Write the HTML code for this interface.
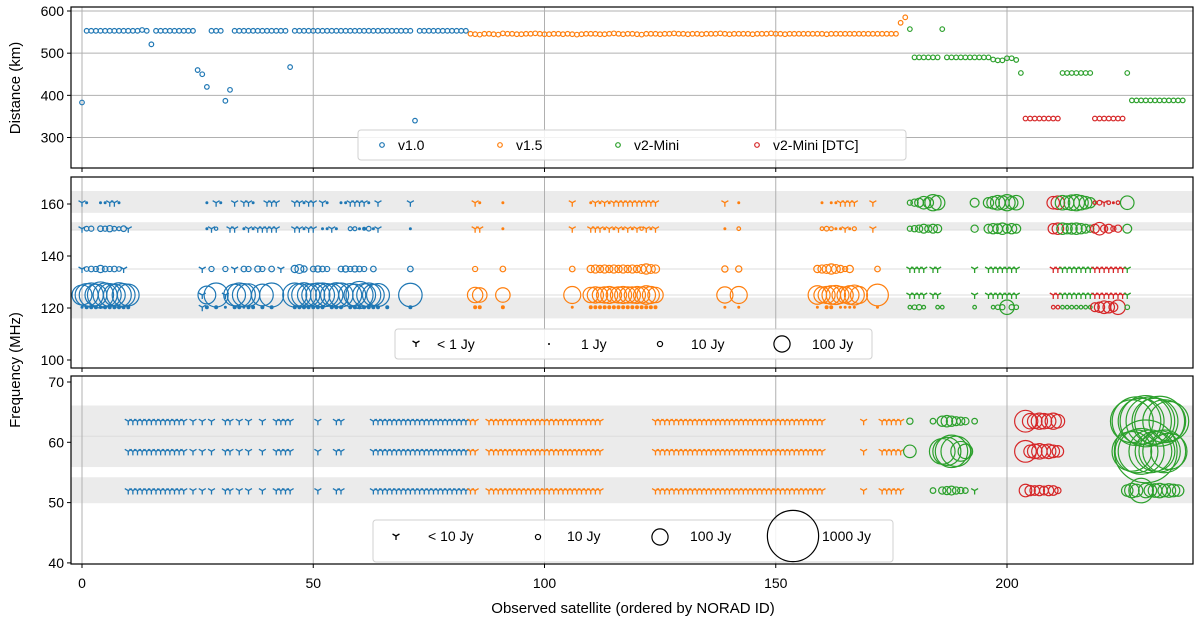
<!DOCTYPE html>
<html><head><meta charset="utf-8"><style>
html,body{margin:0;padding:0;background:#fff;}
svg{display:block;font-family:"Liberation Sans","DejaVu Sans",sans-serif;}
</style></head><body>
<svg id="chart" width="1200" height="621" viewBox="0 0 1200 621" xmlns="http://www.w3.org/2000/svg">
<rect width="1200" height="621" fill="#fff"/>
<g id="layer"></g>
</svg>
<script>
// ---------- DATA ----------
// Top panel: distance (km) for each observed satellite index 0..238
const distances = [383,
553,553,553,553,553,553,553,553,553,553,553,553,555,553,
521,
553,553,553,553,553,553,553,553,553,
460,450,420,
553,553,553,
387,413,
553,553,553,553,553,553,553,553,553,553,553,553,
467,
553,553,553,553,553,553,553,553,553,553,553,553,553,553,553,553,553,553,553,553,553,553,553,553,553,553,
340,
553,553,553,553,553,553,553,553,553,553,553,
546,545,544,546,546,545,544,547,546,546,545,545,546,546,547,546,545,545,546,546,545,546,545,544,545,546,546,546,545,545,
546,547,546,545,546,546,545,544,546,546,546,545,546,546,547,546,546,545,546,546,545,546,546,546,547,546,545,546,546,546,
546,545,546,546,546,547,546,546,545,546,546,546,546,546,546,546,546,545,546,546,546,546,546,546,546,546,546,546,546,546,
546,546,546,
572,585,
557,490,490,490,490,490,490,557,490,490,490,490,490,490,490,490,490,490,485,483,483,488,488,484,
453,
345,345,345,345,345,345,345,345,
453,453,453,453,453,453,453,
345,345,345,345,345,345,345,
453,
388,388,388,388,388,388,388,388,388,388,388,388];
const topTicks = [300,400,500,600];
const versionNames = ["v1.0","v1.5","v2-Mini","v2-Mini [DTC]"];
const colors = ["#1f77b4","#ff7f0e","#2ca02c","#d62728"];

// Middle panel (100-170 MHz)
const midFreqs = [160.5,150.5,135,125,120.3];
const midIdx = [0,1,2,3,4,5,6,7,8,9,10,11,
26,27,28,29,30,31,32,33,34,35,36,37,38,39,40,41,42,43,
46,47,48,49,50,51,52,53,54,55,56,57,58,59,60,61,62,63,64,65,66,
71,
84,85,86,87,88,89,90,91,92,93,
106,107,108,109,110,111,112,113,114,115,116,117,118,119,120,121,122,123,124,125,
138,139,140,141,142,143,144,
158,159,160,161,162,163,164,165,166,167,168,169,170,171,172,173,
179,180,181,182,183,184,185,186,187,
193,194,195,196,197,198,199,200,201,202,203,204,
210,211,212,213,214,215,216,217,218,219,220,221,222,223,224,225,226];
const mid160 = [0.5,1,0,0,1,1,0.5,0.5,1,0,0,0,
0,1,0,0.5,1,0,0,0.5,0,0.5,0.5,1,0,0,0.5,0.5,0.5,0,
0.5,0.5,1,0.5,0.5,0,0.5,1,0,0,1,1,0.5,0.5,0.5,0.5,1,0,0.5,0,0,
0.5,
0,0.5,1,0,0,0,0,1,0,0,
0.5,0,0,0,1,0.5,1,0.5,1,0.5,0.5,0.5,0.5,0.5,0.5,0.5,0.5,0.5,0.5,0,
0,0.5,0,0,1,0,0,
0,0,1,0,1,1,0.5,0.5,0.5,0.5,0,0,0,0.5,0,0,
10,20,30,60,40,100,80,0,0,
30,0,0,40,60,80,70,100,60,80,0,0,
60,70,80,70,90,100,80,60,40,5,8,0.5,5,1,5,0,70];
const mid150 = [0.5,8,10,0,12,10,15,8,6,12,0.5,0,
0,1,0.5,4,0,0,0.5,0.5,0,1,0.5,1,0.5,0.5,0.5,0.5,0.5,0,
0.5,0.5,1,0.5,0.5,0,1,1,0.5,1,0,0,6,6,1,3,8,1,0.5,0,0,
1,
0,0.5,0.5,0,0,0,0,1,0,0,
0.5,0,0,0,0.5,0.5,0.5,1,0.5,1,0.5,1,0.5,1,0.5,4,0.5,1,0.5,0,
0,1,0,0,5,0,0,
0,0,5,8,6,1,1,0.5,1,6,0,0,0,0.5,0,0,
10,15,20,30,20,30,25,0,0,
20,0,0,30,40,35,50,30,40,30,0,0,
40,50,50,40,45,50,40,30,20,30,60,20,30,10,20,0,30];
const mid135 = [0.5,8,12,10,20,12,10,12,8,0.5,0,0,
0.5,0,10,0,0,10,0,0.5,0,12,10,0,14,10,0,12,0,0.5,
20,30,15,0,12,15,12,10,0,0,12,15,10,14,12,10,0,12,0,0,0,
12,
0,10,0,0,0,0,0,12,0,0,
12,0,0,0,20,25,20,25,20,25,20,25,20,25,20,30,40,30,25,0,
0,15,0,0,15,0,0,
0,20,25,30,40,30,20,10,20,0,0,0,0,0,12,0,
0.5,0.5,0.5,0.5,0,0.5,0.5,0,0,
0.5,0,0,0.5,0.5,0.5,0.5,0.5,0.5,0.5,0,0,
0.5,0.5,0.5,0.5,0.5,0.5,0.5,0.5,0.5,0.5,0.5,0.5,0.5,0.5,0.5,0.5,0.5];
const mid125 = [150,200,220,180,260,220,200,180,230,200,180,0,
0.5,120,0,220,0,0.5,0,180,220,200,190,0,0,180,0,220,0,0,
220,200,230,190,200,220,220,200,190,230,220,0,200,180,280,200,220,180,200,0,0,
210,
0,90,80,0,0,0,0,80,0,0,
110,0,0,0,90,100,90,100,110,90,100,110,100,100,110,100,130,110,90,0,
0,100,0,0,110,0,0,
0,130,100,110,130,140,110,100,130,150,110,0,0,0,180,0,
0.5,0.5,0.5,0.5,0,0.5,0.5,0,0,
0.5,0,0,0.5,0.5,0.5,0.5,0.5,0.5,0.5,0,0,
0.5,0.5,0.5,0.5,0.5,0.5,0.5,0.5,0.5,0.5,0.5,0.5,0.5,0.5,0.5,0.5,0.5];
const mid120 = [1,3,3,3,2,3,3,3,3,3,3,0,
0.5,3,0,3,0,1,0,3,3,1,3,3,0,3,0,3,0,0,
3,3,3,3,3,3,3,0,3,3,3,0,3,3,3,3,3,3,3,0,3,
3,
0,3,3,0,0,0,0,3,0,0,
1,0,0,0,3,3,3,3,3,3,3,3,3,3,3,3,3,3,3,0,
0,1,0,0,1,0,0,
0,1,0,3,3,0,1,1,1,1,0,0,0,0,1,0,
5,8,10,5,0,0,5,5,0,
5,0,0,0,5,8,10,80,10,8,0,0,
5,5,5,5,5,5,5,5,5,30,40,60,50,30,80,0,8];
const midTicks = [100,120,140,160];

// Bottom panel (40-70 MHz)
const lowFreqs = [63.5,58.5,52];
const lowIdx = [10,11,12,13,14,15,16,17,18,19,20,21,22,24,26,28,31,32,34,36,39,42,43,44,45,51,55,56,
63,64,65,66,67,68,69,70,71,72,73,74,75,76,77,78,79,80,81,82,83,
84,85,88,89,90,91,92,93,94,95,96,97,98,99,100,101,102,103,104,105,106,107,108,109,110,111,112,
124,125,126,127,128,129,130,131,132,133,134,135,136,137,138,139,140,141,142,143,144,145,146,147,148,149,150,151,152,153,154,155,156,157,158,159,160,
169,173,174,175,176,177,
179,184,186,187,188,189,190,191,193,
204,205,206,207,208,209,210,211,
226,227,228,229,230,231,232,233,234,235,236,237];
const low63 = [5,5,5,5,5,5,5, 5,5,5,5,5,5,5, 5,5,5,5,5,5,5, 5,5,5,5,5,5,5,
5,5,5,5,5,5,5, 5,5,5,5,5,5,5, 5,5,5,5,5,5,5,
5,5,5,5,5,5,5, 5,5,5,5,5,5,5, 5,5,5,5,5,5,5, 5,5,5,5,5,5,
5,5,5,5,5,5,5, 5,5,5,5,5,5,5, 5,5,5,5,5,5,5, 5,5,5,5,5,5,5, 5,5,5,5,5,5,5, 5,5,
5,5,5,5,5,5,
15,12,40,50,40,30,25,20,12,
180,90,80,100,90,80,100,70,
0,700,900,800,1000,900,800,950,700,600,0,0];
const low58 = [5,5,5,5,5,5,5, 5,5,5,5,5,5,5, 5,5,5,5,5,5,5, 5,5,5,5,5,5,5,
5,5,5,5,5,5,5, 5,5,5,5,5,5,5, 5,5,5,5,5,5,5,
5,5,5,5,5,5,5, 5,5,5,5,5,5,5, 5,5,5,5,5,5,5, 5,5,5,5,5,5,
5,5,5,5,5,5,5, 5,5,5,5,5,5,5, 5,5,5,5,5,5,5, 5,5,5,5,5,5,5, 5,5,5,5,5,5,5, 5,5,
5,5,5,5,5,5,
60,0,250,300,400,350,150,80,0,
180,60,80,90,70,80,60,50,
0,600,700,800,1500,700,600,650,700,500,0,0];
const low52 = [5,5,5,5,5,5,5, 5,5,5,5,5,5,5, 5,5,5,5,5,5,5, 5,5,5,5,5,5,5,
5,5,5,5,5,5,5, 5,5,5,5,5,5,5, 5,5,5,5,5,5,5,
5,5,5,5,5,5,5, 5,5,5,5,5,5,5, 5,5,5,5,5,5,5, 5,5,5,5,5,5,
5,5,5,5,5,5,5, 5,5,5,5,5,5,5, 5,5,5,5,5,5,5, 5,5,5,5,5,5,5, 5,5,5,5,5,5,5, 5,5,
5,5,5,5,5,5,
0,12,20,25,30,20,15,12,8,
60,40,35,40,30,40,35,15,
50,80,60,230,80,60,70,80,60,70,60,50];
const lowTicks = [40,50,60,70];
const xTicks = [0,50,100,150,200];

// ---------- SCALES ----------
const X0 = 71, X1 = 1193;
const xs = i => 82 + i * 4.625;
const yTop = d => 11 + (600 - d) * 0.4217;
const yMid = f => 204 + (160 - f) * 2.6;
const yLow = f => 382 + (70 - f) * 6.03;
const P = [{t:7,b:168},{t:177,b:368},{t:376,b:564}];
function ver(i){ if(i<=83) return 0; if(i<=178) return 1; if((i>=204&&i<=211)||(i>=219&&i<=225)) return 3; return 2; }
function diam(f){ return 1.62*Math.sqrt(f); }

const NS="http://www.w3.org/2000/svg";
const layer=document.getElementById('layer');
function mk(tag,attrs,parent){const e=document.createElementNS(NS,tag);for(const k in attrs)e.setAttribute(k,attrs[k]);(parent||layer).appendChild(e);return e;}
function txt(x,y,s,size,anchor,parent){const t=mk('text',{x:x,y:y,'font-size':size,'text-anchor':anchor||'middle',fill:'#000'},parent);t.textContent=s;return t;}
function tri(cx,cy,r,col,parent){
  const p=mk('path',{d:`M${cx},${cy}L${cx},${cy+r}M${cx},${cy}L${cx-0.87*r},${cy-0.5*r}M${cx},${cy}L${cx+0.87*r},${cy-0.5*r}`,stroke:col,'stroke-width':1.3,fill:'none'},parent);
  
  
  return p;
}
function flux(cx,cy,f,col,thr,parent){
  if(f<=0) return;
  if(f<thr){ tri(cx,cy,4,col,parent); return; }
  const d=diam(f);
  const c=mk('circle',{cx:cx,cy:cy,r:Math.max(d/2,0.9),fill:d<3?col:'none',stroke:col,'stroke-width':1.2},parent);
  
  
}

// ---------- PANEL BACKGROUND / GRID ----------
const clipDefs=mk('defs',{});
P.forEach((p,k)=>{const cp=mk('clipPath',{id:'clip'+k},clipDefs);mk('rect',{x:X0,y:p.t,width:X1-X0,height:p.b-p.t},cp);});
const panels=P.map((p,k)=>{const g=mk('g',{'clip-path':`url(#clip${k})`});return g;});

function band(g,y1,y2){mk('rect',{x:X0,y:Math.min(y1,y2),width:X1-X0,height:Math.abs(y2-y1),fill:'#ebebeb'},g);}
band(panels[1],yMid(165),yMid(156.6)); band(panels[1],yMid(153),yMid(150)); band(panels[1],yMid(124),yMid(116));
[150,135,125].forEach(f=>mk('line',{x1:X0,x2:X1,y1:yMid(f),y2:yMid(f),stroke:'#dedede','stroke-width':1},panels[1]));
band(panels[2],yLow(66.1),yLow(61)); band(panels[2],yLow(61),yLow(55.9)); band(panels[2],yLow(54.2),yLow(49.9));
mk('line',{x1:X0,x2:X1,y1:yLow(61),y2:yLow(61),stroke:'#dcdcdc','stroke-width':1},panels[2]);

P.forEach((p,k)=>xTicks.forEach(v=>mk('line',{x1:xs(v),x2:xs(v),y1:p.t,y2:p.b,stroke:'#b0b0b0','stroke-width':1},panels[k])));
topTicks.forEach(v=>mk('line',{x1:X0,x2:X1,y1:yTop(v),y2:yTop(v),stroke:'#b0b0b0','stroke-width':1},panels[0]));

// ---------- MARKS ----------
distances.forEach((d,i)=>{
  const c=mk('circle',{cx:xs(i),cy:yTop(d),r:2.3,fill:'none',stroke:colors[ver(i)],'stroke-width':1.2},panels[0]);
  
  
});
const midRows=[mid160,mid150,mid135,mid125,mid120];
midRows.forEach((row,r)=>row.forEach((f,j)=>flux(xs(midIdx[j]),yMid(midFreqs[r]),f,colors[ver(midIdx[j])],1,panels[1])));
const lowRows=[low63,low58,low52];
lowRows.forEach((row,r)=>row.forEach((f,j)=>flux(xs(lowIdx[j]),yLow(lowFreqs[r]),f,colors[ver(lowIdx[j])],10,panels[2])));

// ---------- AXES ----------
P.forEach((p,k)=>{
  const fr=mk('rect',{x:X0,y:p.t,width:X1-X0,height:p.b-p.t,fill:'none',stroke:'#000','stroke-width':1.2});
  
  
  xTicks.forEach(v=>mk('line',{x1:xs(v),x2:xs(v),y1:p.b,y2:p.b+4,stroke:'#000','stroke-width':1}));
});
xTicks.forEach(v=>{const t=txt(xs(v),588,String(v),14);});
function yt(vals,fn){vals.forEach(v=>{mk('line',{x1:X0-4,x2:X0,y1:fn(v),y2:fn(v),stroke:'#000','stroke-width':1});const t=txt(X0-7,fn(v)+5,String(v),14,'end');});}
yt(topTicks,yTop); yt(midTicks,yMid); yt(lowTicks,yLow);
let t=txt(633,613,'Observed satellite (ordered by NORAD ID)',15);

t=txt(0,0,'Distance (km)',15);t.setAttribute('transform','translate(20,88) rotate(-90)');

t=txt(0,0,'Frequency (MHz)',15);t.setAttribute('transform','translate(20,370) rotate(-90)');


// ---------- LEGENDS ----------
function box(x,y,w,h,name){const r=mk('rect',{x:x,y:y,width:w,height:h,rx:3,fill:'#fff','fill-opacity':0.85,stroke:'#d0d0d0','stroke-width':1});}
box(358,130,548,30,'version-legend');
const lx=[382,500,618,757];
versionNames.forEach((n,k)=>{
  const g=mk('g',{});
  mk('circle',{cx:lx[k],cy:145,r:2.3,fill:'none',stroke:colors[k],'stroke-width':1.2},g);
  txt(lx[k]+16,150,n,14,'start',g);
});
box(395,329,477,30,'flux-legend-high');
let g=mk('g',{});
tri(416,343,4,'#000',g);txt(437,349,'< 1 Jy',14,'start',g);
g=mk('g',{});
mk('circle',{cx:549,cy:344,r:1,fill:'#000'},g);txt(581,349,'1 Jy',14,'start',g);
g=mk('g',{});
mk('circle',{cx:660,cy:344,r:diam(10)/2,fill:'none',stroke:'#000','stroke-width':1.2},g);txt(691,349,'10 Jy',14,'start',g);
g=mk('g',{});
mk('circle',{cx:782,cy:344,r:diam(100)/2,fill:'none',stroke:'#000','stroke-width':1.2},g);txt(812,349,'100 Jy',14,'start',g);

box(373,520,520,42,'flux-legend-low');
g=mk('g',{});
tri(396,536,4,'#000',g);txt(428,541,'< 10 Jy',14,'start',g);
g=mk('g',{});
mk('circle',{cx:538,cy:537,r:diam(10)/2,fill:'none',stroke:'#000','stroke-width':1.2},g);txt(567,541,'10 Jy',14,'start',g);
g=mk('g',{});
mk('circle',{cx:660,cy:537,r:diam(100)/2,fill:'none',stroke:'#000','stroke-width':1.2},g);txt(690,541,'100 Jy',14,'start',g);
g=mk('g',{});
mk('circle',{cx:793,cy:536,r:diam(1000)/2,fill:'none',stroke:'#000','stroke-width':1.2},g);txt(822,541,'1000 Jy',14,'start',g);
</script>
</body></html>
